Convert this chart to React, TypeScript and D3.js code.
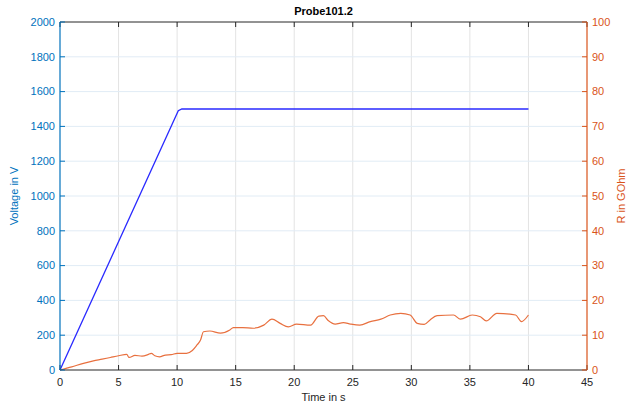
import { useMemo } from "react";
import * as d3 from "d3";

// Probe101.2 — voltage ramp (left axis) and resistance (right axis)

const voltTime = [0, 10.1, 10.4, 40];
const voltValue = [0, 1490, 1500, 1500];

const resTime = [
  0, 1, 2, 2.85, 3.6, 4.3, 5, 5.7, 5.9, 6.4, 7, 7.5, 7.8, 8.1, 8.5, 9, 9.5, 10, 10.8,
  11.3, 11.7, 12, 12.25, 12.8, 13.7, 14.5, 14.8, 15.6, 16.5, 17.4, 18.1, 18.8, 19.5,
  20.2, 21.4, 22.1, 22.5, 22.9, 23.5, 24.2, 24.8, 25.6, 26.5, 27.4, 28.2, 29.1, 29.9,
  30.5, 31.1, 31.6, 32.2, 33.6, 34.2, 35.2, 35.9, 36.4, 37.3, 38.9, 39.4, 40,
];
const resValue = [
  0, 0.9, 1.9, 2.6, 3.1, 3.6, 4.1, 4.5, 3.6, 4.2, 4.0, 4.4, 4.8, 4.1, 3.8, 4.3, 4.4, 4.8, 4.8,
  5.6, 7.2, 8.6, 11.0, 11.2, 10.6, 11.5, 12.2, 12.2, 12.0, 12.9, 14.6, 13.4, 12.4,
  13.2, 12.9, 15.5, 15.6, 14.2, 13.2, 13.6, 13.2, 12.9, 13.9, 14.6, 15.8, 16.3, 15.8,
  13.4, 13.1, 14.4, 15.6, 15.8, 14.6, 15.8, 15.3, 14.1, 16.3, 15.8, 13.9, 15.8,
];

const xTicks = [0, 5, 10, 15, 20, 25, 30, 35, 40, 45];
const yLeftTicks = [0, 200, 400, 600, 800, 1000, 1200, 1400, 1600, 1800, 2000];
const yRightTicks = [0, 10, 20, 30, 40, 50, 60, 70, 80, 90, 100];

const W = 639;
const H = 407;
const margin = { left: 60, right: 52, top: 22, bottom: 37 };

const BLUE_AX = "#0072bd";
const ORANGE = "#d95319";
const DARK = "#262626";
const FONT = "'Liberation Sans', Arial, sans-serif";

export default function App() {
  const innerW = W - margin.left - margin.right;
  const innerH = H - margin.top - margin.bottom;

  const x = useMemo(() => d3.scaleLinear().domain([0, 45]).range([0, innerW]), [innerW]);
  const yL = useMemo(() => d3.scaleLinear().domain([0, 2000]).range([innerH, 0]), [innerH]);
  const yR = useMemo(() => d3.scaleLinear().domain([0, 100]).range([innerH, 0]), [innerH]);

  const voltPath = d3
    .line<number>()
    .x((_, i) => x(voltTime[i]))
    .y((v) => yL(v))(voltValue);
  const resPath = d3
    .line<number>()
    .x((_, i) => x(resTime[i]))
    .y((v) => yR(v))
    .curve(d3.curveMonotoneX)(resValue);

  const tickLen = 5;

  return (
    <svg
      width={W}
      height={H}
      style={{ position: "absolute", left: 0, top: 0, fontFamily: FONT }}
    >
      <rect width={W} height={H} fill="#fff" />
      <g transform={`translate(${margin.left},${margin.top})`}>
        {/* grid */}
        {xTicks.slice(1, -1).map((t) => (
          <line key={`gx${t}`} x1={x(t)} x2={x(t)} y1={0} y2={innerH} stroke="#e3e3e3" strokeWidth={1} />
        ))}
        {yLeftTicks.slice(1, -1).map((t) => (
          <line key={`gy${t}`} x1={0} x2={innerW} y1={yL(t)} y2={yL(t)} stroke="#e1ecf5" strokeWidth={1} />
        ))}

        {/* data */}
        <path d={voltPath ?? ""} fill="none" stroke="#2a2aff" strokeWidth={1.3} />
        <path d={resPath ?? ""} fill="none" stroke="#e8703f" strokeWidth={1.2} />

        {/* top / bottom axes */}
        <line x1={0} x2={innerW} y1={0} y2={0} stroke={DARK} strokeWidth={1} />
        <line x1={0} x2={innerW} y1={innerH} y2={innerH} stroke={DARK} strokeWidth={1} />
        {xTicks.map((t) => (
          <g key={`xt${t}`}>
            <line x1={x(t)} x2={x(t)} y1={innerH} y2={innerH - tickLen} stroke={DARK} />
            <line x1={x(t)} x2={x(t)} y1={0} y2={tickLen} stroke={DARK} />
            <text x={x(t)} y={innerH + 16} textAnchor="middle" fontSize={11} fill={DARK}>
              {t}
            </text>
          </g>
        ))}
        <text x={innerW / 2} y={innerH + 31} textAnchor="middle" fontSize={11} fill={DARK}>
          Time in s
        </text>

        {/* left axis */}
        <line x1={0} x2={0} y1={0} y2={innerH} stroke={BLUE_AX} strokeWidth={1.2} />
        {yLeftTicks.map((t) => (
          <g key={`yl${t}`}>
            <line x1={0} x2={tickLen} y1={yL(t)} y2={yL(t)} stroke={BLUE_AX} />
            <text x={-5} y={yL(t)} dy="0.35em" textAnchor="end" fontSize={11} fill={BLUE_AX}>
              {t}
            </text>
          </g>
        ))}
        <text
          transform={`translate(${-42},${innerH / 2}) rotate(-90)`}
          textAnchor="middle"
          fontSize={11}
          fill={BLUE_AX}
        >
          Voltage in V
        </text>

        {/* right axis */}
        <line x1={innerW} x2={innerW} y1={0} y2={innerH} stroke={ORANGE} strokeWidth={1.2} />
        {yRightTicks.map((t) => (
          <g key={`yr${t}`}>
            <line x1={innerW} x2={innerW - tickLen} y1={yR(t)} y2={yR(t)} stroke={ORANGE} />
            <text x={innerW + 5} y={yR(t)} dy="0.35em" textAnchor="start" fontSize={11} fill={ORANGE}>
              {t}
            </text>
          </g>
        ))}
        <text
          transform={`translate(${innerW + 38},${innerH / 2}) rotate(-90)`}
          textAnchor="middle"
          fontSize={11}
          fill={ORANGE}
        >
          R in GOhm
        </text>

        {/* title */}
        <text x={innerW / 2} y={-7} textAnchor="middle" fontSize={11} fontWeight="bold" fill="#000">
          Probe101.2
        </text>
      </g>
    </svg>
  );
}
